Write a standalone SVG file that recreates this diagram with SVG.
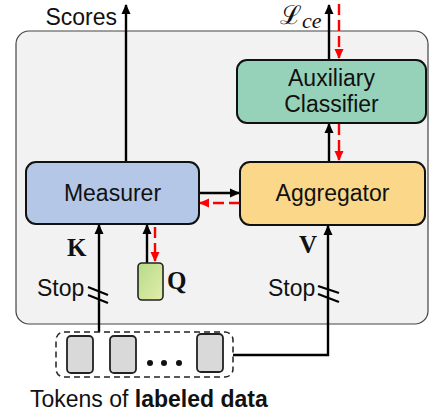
<svg xmlns="http://www.w3.org/2000/svg" width="431" height="414" viewBox="0 0 431 414">
<defs>
<marker id="ab" markerUnits="userSpaceOnUse" markerWidth="10" markerHeight="10" viewBox="0 0 10 10" refX="9" refY="5" orient="auto"><path d="M0,0.5 L10,5 L0,9.5 Z" fill="#000"/></marker>
<marker id="ar" markerUnits="userSpaceOnUse" markerWidth="10" markerHeight="10" viewBox="0 0 10 10" refX="9" refY="5" orient="auto"><path d="M0,0.5 L10,5 L0,9.5 Z" fill="#f00"/></marker>
<linearGradient id="gq" x1="0" y1="0" x2="1" y2="1"><stop offset="0" stop-color="#b5dc89"/><stop offset="1" stop-color="#e4ecaa"/></linearGradient>
</defs>
<style>
.t{font-family:"Liberation Sans",Arial,sans-serif;font-size:23px;fill:#111}
.b{font-family:"Liberation Serif","Times New Roman",serif;font-weight:bold;font-size:25px;fill:#111}
.box{stroke:#111;stroke-width:2}
.bl{stroke:#000;stroke-width:2.4;fill:none}
.rd{stroke:#f00;stroke-width:2.4;fill:none;stroke-dasharray:11,5}
.tok{fill:#d9d9d9;stroke:#222;stroke-width:1.8}
.stop{stroke:#000;stroke-width:2.2;fill:none}
</style>
<rect x="16" y="31" width="412" height="293" rx="13" fill="#f2f2f2" stroke="#444" stroke-width="1.2"/>
<g id="connectors">
<path class="bl" d="M126,162 V5" marker-end="url(#ab)"/>
<path class="bl" d="M329,60 V5" marker-end="url(#ab)"/>
<path class="rd" d="M339,4 V58" marker-end="url(#ar)"/>
<path class="bl" d="M329,162 V124" marker-end="url(#ab)"/>
<path class="rd" d="M339,124 V160" marker-end="url(#ar)"/>
<path class="bl" d="M199,193 H239" marker-end="url(#ab)"/>
<path class="rd" d="M240,203 H200" marker-end="url(#ar)"/>
<path class="bl" d="M99,332 V225" marker-end="url(#ab)"/>
<path class="bl" d="M147,263 V225" marker-end="url(#ab)"/>
<path class="rd" d="M155,227 V261" marker-end="url(#ar)"/>
<path class="bl" d="M233,355 H328 V226" marker-end="url(#ab)"/>
<path class="stop" d="M88,287 L108,295 M88,295 L108,303"/>
<path class="stop" d="M318,286 L339,293 M318,294 L339,302"/>
</g>
<g id="scores"><text class="t" x="117" y="25" text-anchor="end">Scores</text></g>
<g id="loss"><text x="280" y="24" font-family="DejaVu Serif,serif" font-size="26" fill="#111">ℒ</text><text x="302" y="28" font-family="Liberation Serif,serif" font-style="italic" font-size="22" fill="#111">ce</text></g>
<g id="classifier">
<rect class="box" x="237" y="60" width="189" height="63" rx="10" fill="#96d2b9"/>
<text class="t" x="331.5" y="86" text-anchor="middle">Auxiliary</text>
<text class="t" x="331.5" y="112" text-anchor="middle">Classifier</text>
</g>
<g id="measurer">
<rect class="box" x="26" y="162" width="173" height="62" rx="10" fill="#b4c7e7"/>
<text class="t" x="112.5" y="201" text-anchor="middle">Measurer</text>
</g>
<g id="aggregator">
<rect class="box" x="240" y="162" width="185" height="63" rx="10" fill="#fbd78a"/>
<text class="t" x="332.5" y="201" text-anchor="middle">Aggregator</text>
</g>
<g id="query">
<rect x="138" y="263" width="25" height="37" rx="4" fill="url(#gq)" stroke="#222" stroke-width="1.6"/>
<text class="b" x="167" y="289">Q</text>
</g>
<g id="labels">
<text class="b" x="67" y="256">K</text>
<text class="b" x="299" y="253">V</text>
<text class="t" x="37" y="296">Stop</text>
<text class="t" x="268" y="296">Stop</text>
</g>
<g id="tokens">
<rect x="56" y="332" width="177" height="45" rx="8" fill="none" stroke="#222" stroke-width="1.5" stroke-dasharray="6,4"/>
<rect class="tok" x="67" y="336" width="26" height="37" rx="4"/>
<rect class="tok" x="110" y="336" width="26" height="37" rx="4"/>
<rect class="tok" x="197" y="334" width="26" height="38" rx="4"/>
<circle cx="150" cy="363" r="3" fill="#111"/>
<circle cx="164" cy="363" r="3" fill="#111"/>
<circle cx="179" cy="363" r="3" fill="#111"/>
</g>
<g id="caption"><text class="t" x="30" y="407">Tokens of <tspan font-weight="bold">labeled data</tspan></text></g>
</svg>
